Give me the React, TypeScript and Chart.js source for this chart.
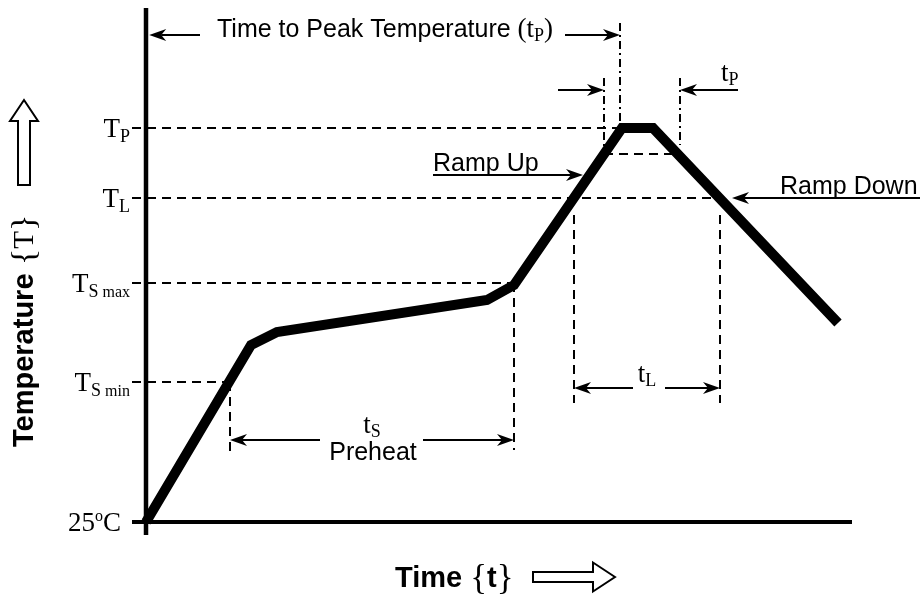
import React, { useEffect, useRef } from "react";
import { Chart, registerables } from "chart.js";

Chart.register(...registerables);

// ---- Schematic reflow profile (time units, temperature units; 25°C at the time axis) ----
const profileTime = [0, 52.5, 65.5, 170.5, 184, 238, 253.5, 346];
const profileTemp = [25, 113.5, 120, 136, 143.5, 222, 222, 124.5];

// Temperature levels marked on the temperature axis
const levelNames = ["25°C", "TSmin", "TSmax", "TL", "TP"];
const levelTemps = [25, 95, 144.5, 187, 222];
const levelEndTimes = [353, 42, 184, 287, 238];

// Time markers
const preheatTimes = [42, 184]; // tS
const liquidusTimes = [214, 287]; // tL
const peakWindowTimes = [229, 267]; // tP window
const peakWindowTemp = 209;
const peakTime = 237;

// Axis extents
const timeRange = [-11, 357];
const tempRange = [15, 284];

const SANS = '"Liberation Sans", Arial, Helvetica, sans-serif';
const SERIF = '"Liberation Serif", "Times New Roman", Times, serif';

type Run = { t: string; f: string; dy?: number };

function drawRuns(ctx: CanvasRenderingContext2D, runs: Run[], x: number, y: number, align: "left" | "center" | "right") {
  let w = 0;
  for (const r of runs) {
    ctx.font = r.f;
    w += ctx.measureText(r.t).width;
  }
  let cx = align === "left" ? x : align === "center" ? x - w / 2 : x - w;
  ctx.textAlign = "left";
  ctx.textBaseline = "alphabetic";
  for (const r of runs) {
    ctx.font = r.f;
    ctx.fillText(r.t, cx, y + (r.dy || 0));
    cx += ctx.measureText(r.t).width;
  }
}

function arrow(ctx: CanvasRenderingContext2D, x1: number, y1: number, x2: number, y2: number) {
  const dx = x2 - x1, dy = y2 - y1;
  const L = Math.hypot(dx, dy);
  const ux = dx / L, uy = dy / L;
  const px = -uy, py = ux;
  const len = 17, hw = 6, inner = 12;
  ctx.beginPath();
  ctx.moveTo(x1, y1);
  ctx.lineTo(x2 - ux * inner, y2 - uy * inner);
  ctx.lineWidth = 2;
  ctx.strokeStyle = "#000";
  ctx.stroke();
  ctx.beginPath();
  ctx.moveTo(x2, y2);
  ctx.lineTo(x2 - ux * len + px * hw, y2 - uy * len + py * hw);
  ctx.lineTo(x2 - ux * inner, y2 - uy * inner);
  ctx.lineTo(x2 - ux * len - px * hw, y2 - uy * len - py * hw);
  ctx.closePath();
  ctx.fillStyle = "#000";
  ctx.fill();
}

function seg(x1: number, y1: number, x2: number, y2: number, dash: number[], width = 2) {
  return {
    data: [{ x: x1, y: y1 }, { x: x2, y: y2 }],
    borderColor: "#000",
    borderWidth: width,
    borderDash: dash,
    pointRadius: 0,
    tension: 0,
    clip: false as any,
  };
}

const annotations = {
  id: "reflowAnnotations",
  afterDatasetsDraw(chart: any) {
    const ctx: CanvasRenderingContext2D = chart.ctx;
    const xs = chart.scales.x;
    const ys = chart.scales.y;
    const X = (v: number) => xs.getPixelForValue(v);
    const Y = (v: number) => ys.getPixelForValue(v);
    ctx.save();
    ctx.fillStyle = "#000";

    // ---- arrows ----
    arrow(ctx, X(27), Y(268.5), X(1.6), Y(268.5));
    arrow(ctx, X(209.5), Y(268.5), X(peakTime), Y(268.5));
    arrow(ctx, X(206), Y(241), X(peakWindowTimes[0]), Y(241));
    arrow(ctx, X(296), Y(241), X(peakWindowTimes[1]), Y(241));
    arrow(ctx, X(143.5), Y(198.5), X(218.5), Y(198.5));
    arrow(ctx, X(387), Y(levelTemps[3]), X(293), Y(levelTemps[3]));
    arrow(ctx, X(87), Y(66), X(preheatTimes[0]), Y(66));
    arrow(ctx, X(138.5), Y(66), X(preheatTimes[1]), Y(66));
    arrow(ctx, X(243.5), Y(92), X(liquidusTimes[0]), Y(92));
    arrow(ctx, X(259.5), Y(92), X(liquidusTimes[1]), Y(92));

    // ---- text labels ----
    const sans = `25px ${SANS}`;
    const ser = `27px ${SERIF}`;
    const sub = `18px ${SERIF}`;
    drawRuns(ctx, [
      { t: "Time to Peak Temperature ", f: sans },
      { t: "(t", f: ser },
      { t: "P", f: sub, dy: 4 },
      { t: ")", f: ser },
    ], X(35.5), Y(268.5) + 2, "left");
    drawRuns(ctx, [{ t: "t", f: ser }, { t: "P", f: sub, dy: 4 }], X(287.5), Y(241) - 9, "left");
    drawRuns(ctx, [{ t: "Ramp Up", f: sans }], X(143.5), Y(198.5) - 4, "left");
    drawRuns(ctx, [{ t: "Ramp Down", f: sans }], X(317), Y(levelTemps[3]) - 4, "left");
    const tsMid = (preheatTimes[0] + preheatTimes[1]) / 2;
    drawRuns(ctx, [{ t: "t", f: ser }, { t: "S", f: sub, dy: 4 }], X(tsMid), Y(66) - 7, "center");
    drawRuns(ctx, [{ t: "Preheat", f: sans }], X(tsMid + 0.5), Y(66) + 20, "center");
    const tlMid = (liquidusTimes[0] + liquidusTimes[1]) / 2;
    drawRuns(ctx, [{ t: "t", f: ser }, { t: "L", f: sub, dy: 4 }], X(tlMid), Y(92) - 6, "center");

    // ---- temperature level labels ----
    const big = `27px ${SERIF}`;
    const small = `18px ${SERIF}`;
    const smaller = `16px ${SERIF}`;
    const lx = X(0) - 16;
    levelNames.forEach((name, i) => {
      const y = Y(levelTemps[i]) + 9;
      let runs: Run[];
      if (name === "25°C") {
        runs = [
          { t: "25", f: big },
          { t: "o", f: smaller, dy: -10 },
          { t: "C", f: big },
        ];
        drawRuns(ctx, runs, lx - 9, y, "right");
        return;
      } else if (name === "TSmin" || name === "TSmax") {
        runs = [
          { t: "T", f: big },
          { t: "S", f: small, dy: 5 },
          { t: " " + name.slice(2), f: smaller, dy: 5 },
        ];
      } else {
        runs = [
          { t: "T", f: big },
          { t: name.slice(1), f: small, dy: 5 },
        ];
      }
      drawRuns(ctx, runs, lx, y, "right");
    });

    // ---- axis titles ----
    const tx = 33;
    const ty = Y(62.5);
    ctx.save();
    ctx.translate(tx, ty);
    ctx.rotate(-Math.PI / 2);
    drawRuns(ctx, [
      { t: "Temperature", f: `bold 29px ${SANS}` },
      { t: " {", f: `34px ${SERIF}`, dy: 1 },
      { t: "T", f: `29px ${SERIF}` },
      { t: "}", f: `34px ${SERIF}`, dy: 1 },
    ], 0, 0, "left");
    ctx.restore();
    // hollow up arrow
    const ax = 24, aTop = Y(282) + 92, aBot = aTop + 85;
    ctx.beginPath();
    ctx.moveTo(ax, aTop);
    ctx.lineTo(ax + 14, aTop + 21);
    ctx.lineTo(ax + 6, aTop + 21);
    ctx.lineTo(ax + 6, aBot);
    ctx.lineTo(ax - 6, aBot);
    ctx.lineTo(ax - 6, aTop + 21);
    ctx.lineTo(ax - 14, aTop + 21);
    ctx.closePath();
    ctx.fillStyle = "#fff";
    ctx.fill();
    ctx.lineWidth = 2;
    ctx.strokeStyle = "#000";
    ctx.stroke();

    // Time {t}
    ctx.fillStyle = "#000";
    const by = Y(25) + 65;
    drawRuns(ctx, [
      { t: "Time ", f: `bold 29px ${SANS}` },
      { t: "{", f: `35px ${SERIF}`, dy: 2 },
      { t: "t", f: `bold 29px ${SANS}` },
      { t: "}", f: `35px ${SERIF}`, dy: 2 },
    ], X(124.5), by, "left");
    const rx0 = X(193.5), rx1 = rx0 + 82, rcy = by - 10, hb = rx1 - 22;
    ctx.beginPath();
    ctx.moveTo(rx1, rcy);
    ctx.lineTo(hb, rcy - 14.5);
    ctx.lineTo(hb, rcy - 5);
    ctx.lineTo(rx0, rcy - 5);
    ctx.lineTo(rx0, rcy + 5);
    ctx.lineTo(hb, rcy + 5);
    ctx.lineTo(hb, rcy + 14.5);
    ctx.closePath();
    ctx.fillStyle = "#fff";
    ctx.fill();
    ctx.lineWidth = 2;
    ctx.strokeStyle = "#000";
    ctx.stroke();

    ctx.restore();
  },
};

export default function App() {
  const ref = useRef<HTMLCanvasElement | null>(null);

  useEffect(() => {
    document.body.style.margin = "0";
    const canvas = ref.current;
    if (!canvas) return;

    const dash = [9, 6];
    const dashDot = [8, 4, 2, 4];
    const datasets: any[] = [];

    datasets.push({
      data: profileTime.map((t, i) => ({ x: t, y: profileTemp[i] })),
      borderColor: "#000",
      borderWidth: 10,
      borderJoinStyle: "miter",
      borderCapStyle: "butt",
      pointRadius: 0,
      tension: 0,
      clip: false,
    });
    datasets.push(seg(-7, levelTemps[0], levelEndTimes[0], levelTemps[0], [], 4));
    datasets.push(seg(0, 18.5, 0, 282, [], 4.5));
    for (let i = 1; i < levelTemps.length; i++) {
      datasets.push(seg(-7, levelTemps[i], levelEndTimes[i], levelTemps[i], dash));
    }
    datasets.push(seg(peakWindowTimes[0], peakWindowTemp, 263, peakWindowTemp, dash));
    datasets.push(seg(preheatTimes[0], levelTemps[1], preheatTimes[0], 59.5, dash));
    datasets.push(seg(preheatTimes[1], levelTemps[2], preheatTimes[1], 61, dash));
    datasets.push(seg(liquidusTimes[0], 178.5, liquidusTimes[0], 84.5, dash));
    datasets.push(seg(liquidusTimes[1], 178.5, liquidusTimes[1], 84.5, dash));
    datasets.push(seg(peakWindowTimes[0], 247, peakWindowTimes[0], peakWindowTemp, dashDot));
    datasets.push(seg(peakTime, 274.5, peakTime, levelTemps[4], dashDot));
    datasets.push(seg(peakWindowTimes[1], 247, peakWindowTimes[1], 213.5, dashDot));

    const chart = new Chart(canvas, {
      type: "line",
      data: { datasets },
      options: {
        responsive: false,
        maintainAspectRatio: false,
        animation: false,
        events: [],
        layout: { padding: { left: 124, right: 64, top: 4, bottom: 54 } },
        plugins: { legend: { display: false }, tooltip: { enabled: false } },
        scales: {
          x: { type: "linear", min: timeRange[0], max: timeRange[1], display: false },
          y: { type: "linear", min: tempRange[0], max: tempRange[1], display: false },
        },
      },
      plugins: [annotations],
    } as any);

    return () => chart.destroy();
  }, []);

  return (
    <div style={{ position: "fixed", left: 0, top: 0, width: 924, height: 596, background: "#fff" }}>
      <canvas ref={ref} width={924} height={596} style={{ display: "block" }} />
    </div>
  );
}
